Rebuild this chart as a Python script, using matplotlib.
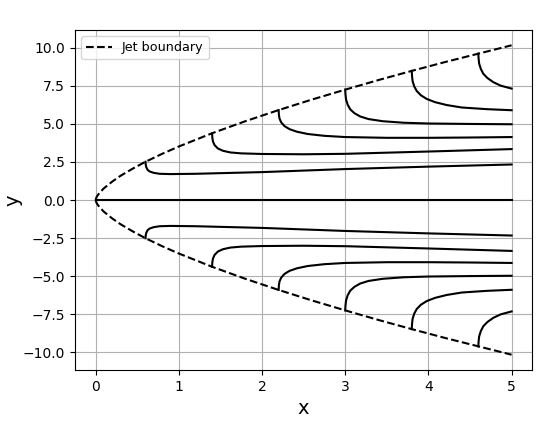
import numpy as np
import matplotlib
matplotlib.use('Agg')
import matplotlib.pyplot as plt

# jet boundary (upper half, lower half is its mirror)
bx = [0, 0.01, 0.02, 0.05, 0.1, 0.2, 0.3, 0.45, 0.6, 0.8, 1.0, 1.4, 1.8, 2.2, 2.6, 3.0, 3.4, 3.8, 4.2, 4.6, 5.0]
by = [0, 0.17, 0.27, 0.49, 0.77, 1.21, 1.59, 2.07, 2.51, 3.03, 3.51, 4.38, 5.17, 5.90, 6.59, 7.24, 7.87, 8.47, 9.05, 9.60, 10.15]

# streamlines (upper half)
s1x = [0.600, 0.603, 0.610, 0.625, 0.65, 0.70, 0.77, 0.9, 1.2, 2.0, 3.0, 4.0, 5.0]
s1y = [2.51, 2.30, 2.14, 1.98, 1.87, 1.78, 1.72, 1.70, 1.72, 1.83, 2.03, 2.19, 2.33]
s2x = [1.40, 1.403, 1.41, 1.43, 1.47, 1.53, 1.62, 1.75, 2.0, 2.5, 3.0, 4.0, 5.0]
s2y = [4.38, 4.10, 3.85, 3.60, 3.38, 3.23, 3.12, 3.06, 3.02, 3.00, 3.03, 3.18, 3.34]
s3x = [2.20, 2.203, 2.21, 2.23, 2.27, 2.33, 2.42, 2.55, 2.75, 3.0, 3.5, 4.0, 4.5, 5.0]
s3y = [5.90, 5.60, 5.35, 5.10, 4.85, 4.65, 4.48, 4.33, 4.21, 4.13, 4.08, 4.08, 4.10, 4.13]
s4x = [3.0, 3.003, 3.01, 3.03, 3.06, 3.11, 3.18, 3.28, 3.45, 3.7, 4.0, 4.5, 5.0]
s4y = [7.24, 6.95, 6.60, 6.25, 5.95, 5.70, 5.48, 5.31, 5.17, 5.07, 5.02, 4.99, 4.97]
s5x = [3.8, 3.803, 3.81, 3.83, 3.86, 3.91, 3.98, 4.08, 4.22, 4.4, 4.7, 5.0]
s5y = [8.47, 8.15, 7.80, 7.45, 7.15, 6.87, 6.63, 6.42, 6.23, 6.07, 5.96, 5.89]
s6x = [4.6, 4.603, 4.61, 4.63, 4.66, 4.71, 4.78, 4.87, 5.0]
s6y = [9.60, 9.30, 8.95, 8.60, 8.28, 8.00, 7.73, 7.50, 7.31]

streams = [(s1x, s1y), (s2x, s2y), (s3x, s3y), (s4x, s4y), (s5x, s5y), (s6x, s6y)]

fig, ax = plt.subplots(figsize=(5.5, 4.26), dpi=100)
fig.subplots_adjust(left=0.136, right=0.968, top=0.930, bottom=0.131)

ax.plot(bx, by, 'k--', label='Jet boundary')
ax.plot(bx, -np.array(by), 'k--')
for sx, sy in streams:
    ax.plot(sx, sy, 'k-')
    ax.plot(sx, -np.array(sy), 'k-')
ax.plot([0, 5], [0, 0], 'k-')

ax.set_xlabel('x', fontsize=14)
ax.set_ylabel('y', fontsize=14, labelpad=0)
ax.grid(True)
ax.legend(loc='upper left', fontsize=9.2)

plt.savefig('out.png')
